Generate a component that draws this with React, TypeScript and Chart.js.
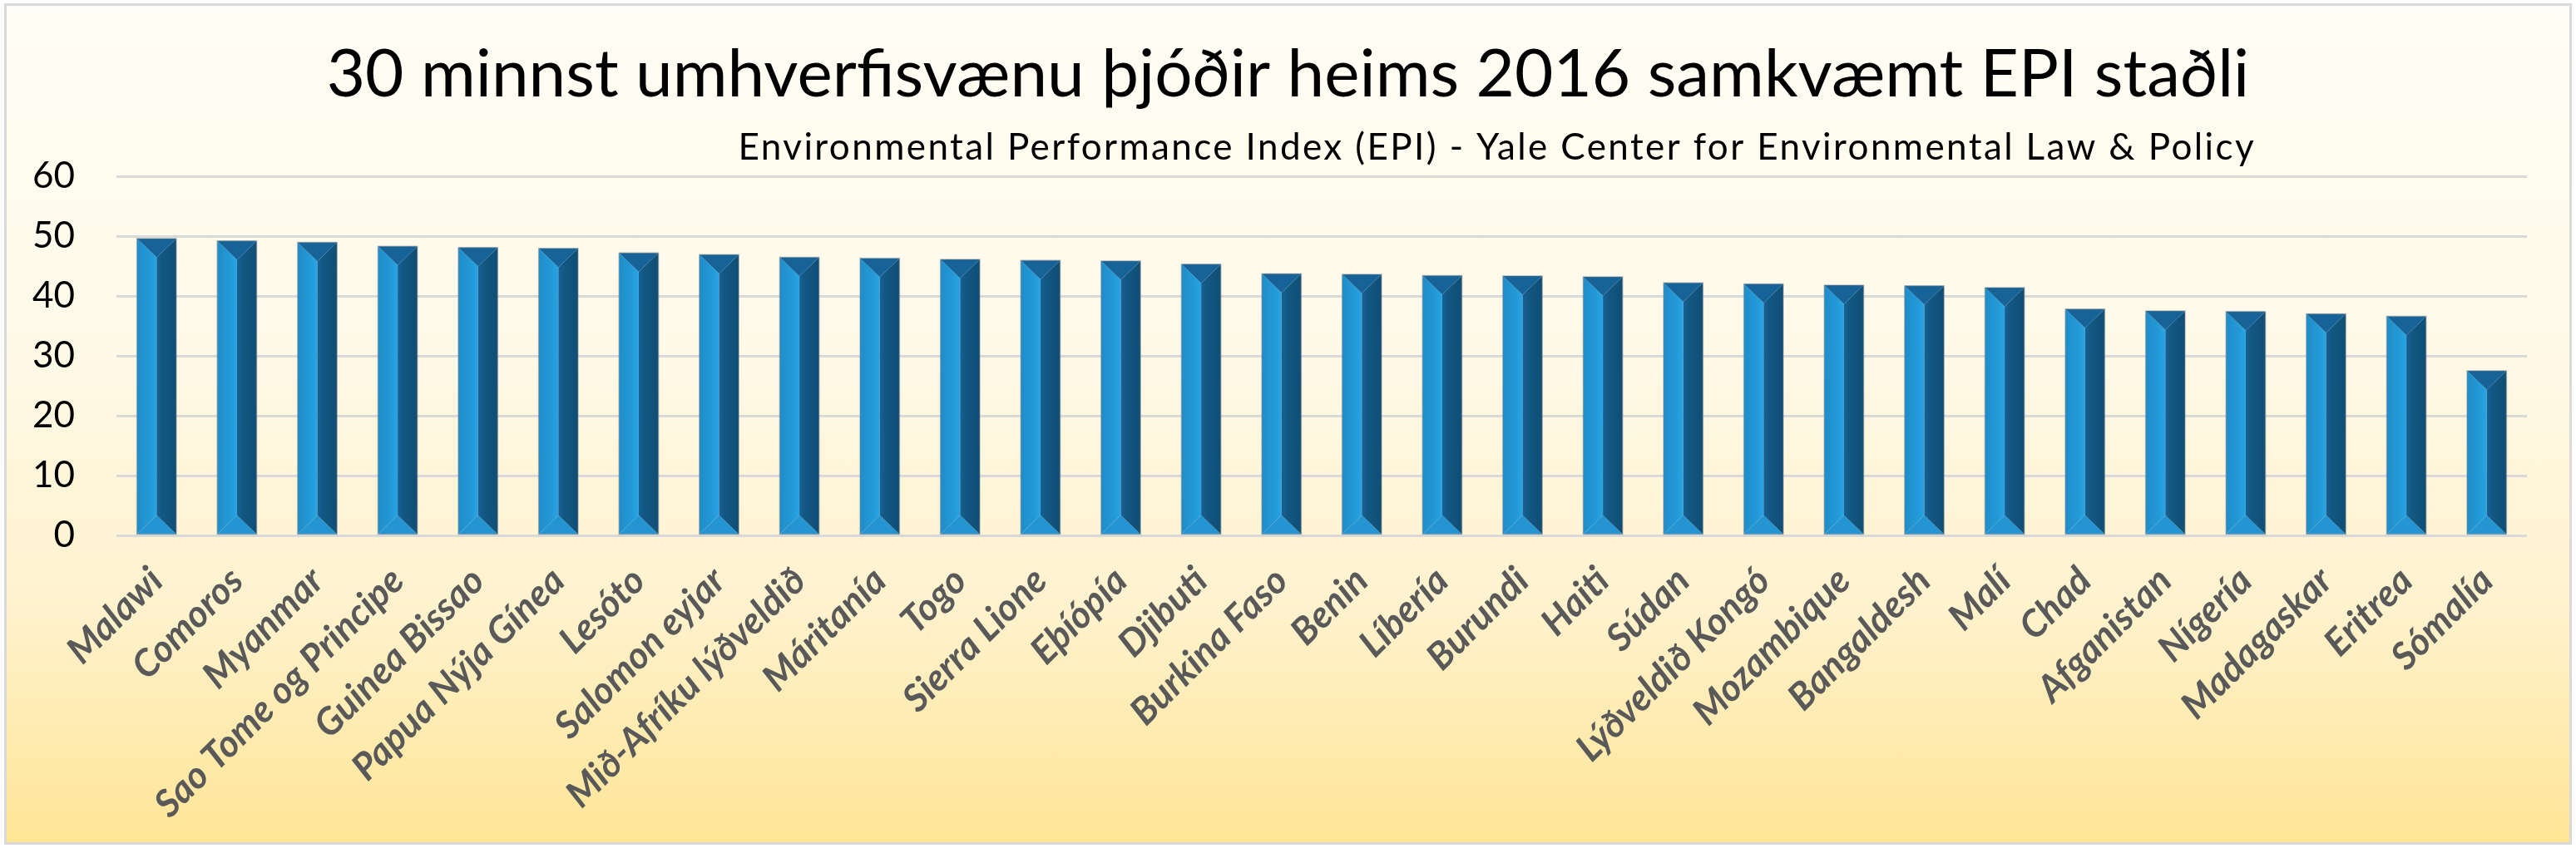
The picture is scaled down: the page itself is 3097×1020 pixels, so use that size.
import React, { useEffect, useRef } from "react";
import { Chart, registerables } from "chart.js";

Chart.register(...registerables);

const countries = [
  "Malawi", "Comoros", "Myanmar", "Sao Tome og Principe", "Guinea Bissao",
  "Papua Nýja Gínea", "Lesóto", "Salomon eyjar", "Mið-Afríku lýðveldið", "Máritanía",
  "Togo", "Sierra Lione", "Eþíópía", "Djibuti", "Burkina Faso",
  "Benin", "Líbería", "Burundi", "Haiti", "Súdan",
  "Lýðveldið Kongó", "Mozambique", "Bangaldesh", "Malí", "Chad",
  "Afganistan", "Nígería", "Madagaskar", "Eritrea", "Sómalía",
];

const epiScores = [
  49.6, 49.2, 48.95, 48.3, 48.1,
  47.95, 47.2, 46.9, 46.45, 46.3,
  46.1, 45.95, 45.85, 45.3, 43.7,
  43.6, 43.4, 43.35, 43.2, 42.2,
  42.0, 41.8, 41.7, 41.4, 37.8,
  37.5, 37.4, 37.0, 36.6, 27.5,
];

const yMin = 0;
const yMax = 60;
const yStep = 10;

const titleText = "30 minnst umhverfisvænu þjóðir heims 2016 samkvæmt EPI staðli";
const subtitleText =
  "Environmental Performance Index (EPI) - Yale Center for Environmental Law & Policy";

const bevelBarsPlugin = {
  id: "bevelBars",
  afterDatasetsDraw(chart: any) {
    const ctx = chart.ctx;
    const meta = chart.getDatasetMeta(0);
    meta.data.forEach((bar: any) => {
      const { x, y, base, width } = bar.getProps(["x", "y", "base", "width"], true);
      const l = x - width / 2;
      const r = x + width / 2;
      const t = Math.min(y, base);
      const b = Math.max(y, base);
      const d = Math.min(width * 0.48, (b - t) / 2);
      ctx.save();
      const gl = ctx.createLinearGradient(l, 0, x, 0);
      gl.addColorStop(0, "#1f8dc9");
      gl.addColorStop(0.65, "#2399d7");
      gl.addColorStop(1, "#29a4e4");
      ctx.fillStyle = gl;
      ctx.beginPath();
      ctx.moveTo(l, t);
      ctx.lineTo(x, t + d);
      ctx.lineTo(x, b - d);
      ctx.lineTo(l, b);
      ctx.closePath();
      ctx.fill();
      ctx.fillStyle = "#2495d2";
      ctx.beginPath();
      ctx.moveTo(l, b);
      ctx.lineTo(x, b - d);
      ctx.lineTo(r, b);
      ctx.closePath();
      ctx.fill();
      const gr = ctx.createLinearGradient(x, 0, r, 0);
      gr.addColorStop(0, "#166194");
      gr.addColorStop(0.3, "#125783");
      gr.addColorStop(1, "#104e74");
      ctx.fillStyle = gr;
      ctx.beginPath();
      ctx.moveTo(x, t + d);
      ctx.lineTo(r, t);
      ctx.lineTo(r, b);
      ctx.lineTo(x, b - d);
      ctx.closePath();
      ctx.fill();
      ctx.fillStyle = "#176397";
      ctx.beginPath();
      ctx.moveTo(l, t);
      ctx.lineTo(r, t);
      ctx.lineTo(x, t + d);
      ctx.closePath();
      ctx.fill();
      ctx.strokeStyle = "rgba(110,125,140,0.45)";
      ctx.lineWidth = 1.5;
      ctx.strokeRect(l, t, r - l, b - t);
      ctx.restore();
    });
  },
};

const titlesPlugin = {
  id: "titles",
  afterDraw(chart: any) {
    const ctx = chart.ctx;
    ctx.save();
    ctx.fillStyle = "#000000";
    ctx.textBaseline = "alphabetic";
    ctx.font = "80px Lato";
    ctx.textAlign = "center";
    ctx.fillText(titleText, chart.width / 2, 109);
    ctx.font = "44px Lato";
    ctx.textAlign = "right";
    if ("letterSpacing" in ctx) (ctx as any).letterSpacing = "2.4px";
    ctx.fillText(subtitleText, 2704, 185);
    ctx.restore();
  },
};

export default function App() {
  const canvasRef = useRef<HTMLCanvasElement | null>(null);

  useEffect(() => {
    if (!canvasRef.current) return;
    const chart = new Chart(canvasRef.current, {
      type: "bar",
      data: {
        labels: countries,
        datasets: [
          {
            label: "EPI",
            data: epiScores,
            backgroundColor: "rgba(0,0,0,0)",
            borderWidth: 0,
            barPercentage: 0.49,
            categoryPercentage: 1,
          },
        ],
      },
      options: {
        animation: false,
        responsive: true,
        maintainAspectRatio: false,
        devicePixelRatio: 1,
        layout: { padding: { top: 205, right: 51, bottom: 0, left: 0 } },
        plugins: {
          legend: { display: false },
          title: { display: false },
          tooltip: { enabled: false },
        },
        scales: {
          x: {
            grid: { display: false },
            border: { display: false },
            ticks: {
              autoSkip: false,
              minRotation: 45,
              maxRotation: 45,
              padding: 20,
              color: "#595959",
              font: { family: "Lato", size: 45, weight: "bold", style: "italic" },
            },
            afterFit(scale: any) {
              scale.height = 369;
            },
          },
          y: {
            min: yMin,
            max: yMax,
            ticks: {
              stepSize: yStep,
              padding: 50,
              color: "#000000",
              font: { family: "Lato", size: 44 },
            },
            grid: { color: "#d9d9d9", lineWidth: 3, drawTicks: false },
            border: { display: false },
            afterFit(scale: any) {
              scale.width = 132;
            },
          },
        },
      },
      plugins: [bevelBarsPlugin, titlesPlugin],
    });
    if ((document as any).fonts && (document as any).fonts.load) {
      Promise.all([
        (document as any).fonts.load("80px Lato"),
        (document as any).fonts.load("italic bold 45px Lato"),
      ]).then(() => chart.update()).catch(() => {});
    }
    return () => chart.destroy();
  }, []);

  return (
    <div
      style={{
        position: "absolute",
        left: 5,
        top: 4,
        width: 3087,
        height: 1012,
        boxSizing: "border-box",
        border: "3px solid #d9d9d9",
        background:
          "linear-gradient(to bottom, #fffdf5 0%, #fff9e8 40%, #fff2cd 72%, #ffe596 100%)",
      }}
    >
      <div style={{ position: "relative", width: "100%", height: "100%" }}>
        <canvas ref={canvasRef} />
      </div>
    </div>
  );
}
